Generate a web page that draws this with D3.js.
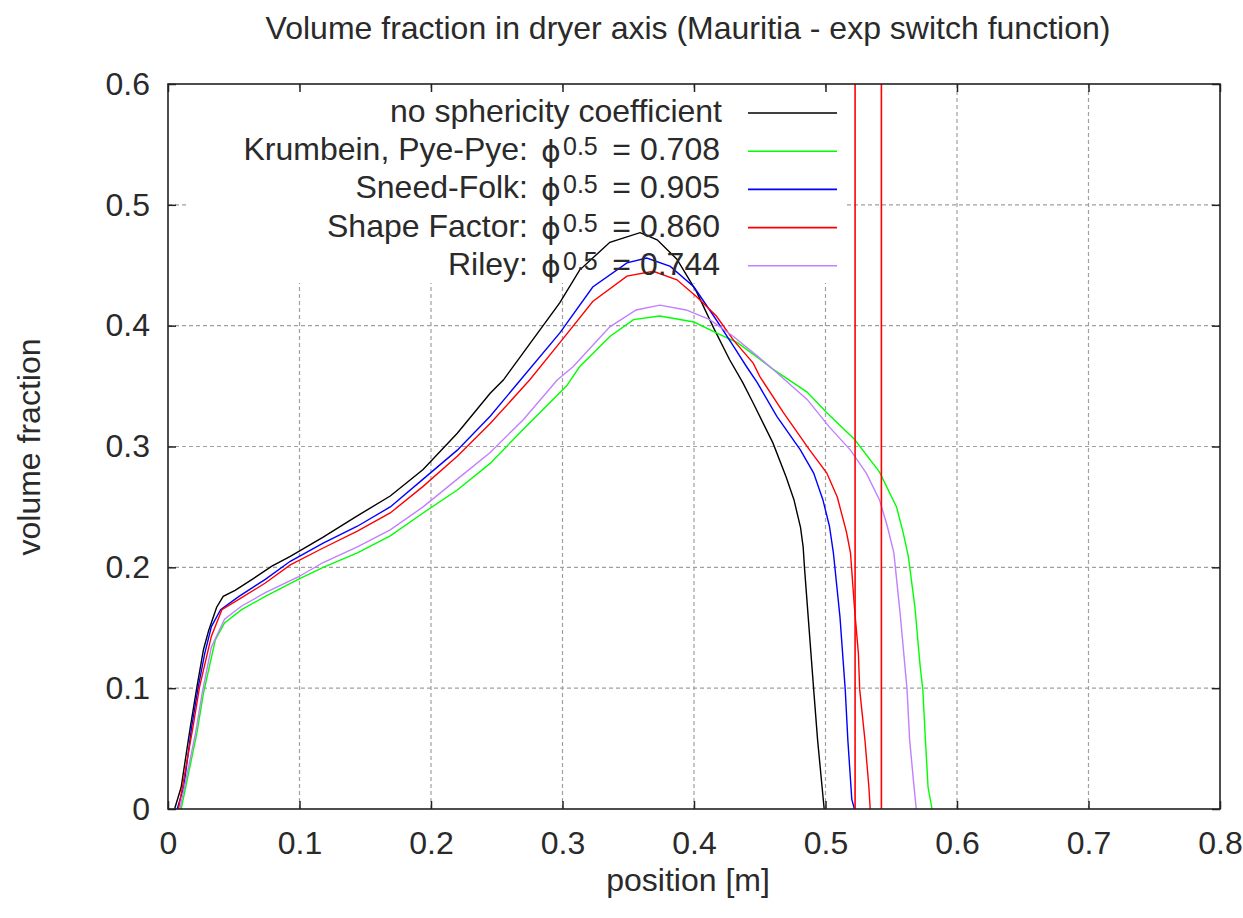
<!DOCTYPE html>
<html>
<head>
<meta charset="utf-8">
<script src="https://cdn.jsdelivr.net/npm/d3@7"></script>
<style>
	body { margin: 0; background: #fff; }
	svg text { font-family: "Liberation Sans", Arial, sans-serif; fill: #2a2a2a; }
</style>
</head>
<body>
<div id="chart"></div>
<script>

// [position m, volume fraction]
var noCoef = [[0.005,0],[0.010,0.018],[0.017,0.068],[0.022,0.101],[0.027,0.132],[0.031,0.148],[0.037,0.167],[0.042,0.176],[0.051,0.181],[0.064,0.190],[0.079,0.201],[0.093,0.209],[0.118,0.225],[0.143,0.242],[0.169,0.259],[0.194,0.281],[0.220,0.311],[0.245,0.344],[0.255,0.355],[0.298,0.419],[0.313,0.446],[0.336,0.469],[0.359,0.477],[0.372,0.471],[0.387,0.455],[0.402,0.428],[0.415,0.398],[0.427,0.372],[0.437,0.353],[0.445,0.336],[0.460,0.303],[0.470,0.275],[0.476,0.256],[0.481,0.233],[0.483,0.217],[0.484,0.200],[0.491,0.099],[0.494,0.057],[0.499,0]];
var krumbein = [[0.010,0],[0.022,0.063],[0.027,0.096],[0.036,0.140],[0.043,0.154],[0.056,0.165],[0.074,0.176],[0.099,0.190],[0.118,0.200],[0.144,0.212],[0.169,0.226],[0.194,0.245],[0.220,0.264],[0.245,0.286],[0.270,0.314],[0.303,0.350],[0.313,0.366],[0.336,0.391],[0.354,0.405],[0.374,0.408],[0.400,0.403],[0.417,0.394],[0.433,0.386],[0.448,0.374],[0.460,0.364],[0.486,0.345],[0.501,0.328],[0.522,0.306],[0.541,0.279],[0.554,0.250],[0.559,0.229],[0.563,0.209],[0.568,0.167],[0.572,0.118],[0.574,0.099],[0.576,0.057],[0.578,0.018],[0.581,0]];
var sneedFolk = [[0.007,0],[0.012,0.018],[0.018,0.068],[0.023,0.101],[0.028,0.129],[0.033,0.151],[0.040,0.165],[0.054,0.176],[0.074,0.190],[0.093,0.205],[0.118,0.220],[0.144,0.234],[0.169,0.250],[0.194,0.273],[0.220,0.297],[0.245,0.325],[0.268,0.355],[0.298,0.394],[0.323,0.432],[0.349,0.452],[0.364,0.456],[0.382,0.449],[0.400,0.432],[0.415,0.408],[0.430,0.383],[0.440,0.366],[0.448,0.353],[0.463,0.325],[0.481,0.297],[0.491,0.278],[0.498,0.256],[0.503,0.234],[0.506,0.212],[0.511,0.159],[0.515,0.099],[0.517,0.057],[0.520,0.008],[0.522,0]];
var shapeFactor = [[0.008,0],[0.019,0.068],[0.024,0.101],[0.033,0.143],[0.041,0.165],[0.056,0.175],[0.074,0.187],[0.093,0.202],[0.118,0.216],[0.144,0.230],[0.169,0.245],[0.194,0.267],[0.220,0.292],[0.245,0.319],[0.275,0.355],[0.298,0.386],[0.323,0.420],[0.349,0.441],[0.369,0.445],[0.387,0.438],[0.402,0.424],[0.417,0.408],[0.430,0.388],[0.445,0.369],[0.450,0.358],[0.468,0.328],[0.488,0.297],[0.501,0.278],[0.509,0.258],[0.516,0.229],[0.519,0.212],[0.522,0.167],[0.525,0.129],[0.526,0.099],[0.530,0.057],[0.533,0.018],[0.534,0]];
var riley = [[0.009,0],[0.021,0.063],[0.026,0.096],[0.033,0.134],[0.043,0.157],[0.056,0.168],[0.074,0.179],[0.099,0.192],[0.118,0.204],[0.144,0.217],[0.169,0.231],[0.194,0.250],[0.220,0.273],[0.245,0.295],[0.270,0.322],[0.296,0.355],[0.308,0.366],[0.336,0.399],[0.356,0.413],[0.374,0.417],[0.394,0.413],[0.412,0.405],[0.430,0.391],[0.448,0.375],[0.460,0.364],[0.486,0.339],[0.503,0.316],[0.519,0.297],[0.531,0.278],[0.541,0.256],[0.547,0.234],[0.552,0.212],[0.557,0.159],[0.562,0.099],[0.564,0.057],[0.567,0.022],[0.569,0]];

var markX = [0.5225, 0.5425];		// red vertical lines

var xTicks = [0, 0.1, 0.2, 0.3, 0.4, 0.5, 0.6, 0.7, 0.8];
var yTicks = [0, 0.1, 0.2, 0.3, 0.4, 0.5, 0.6];

var series = [
	{ name: "no sphericity coefficient", data: noCoef, color: "#000000" },
	{ name: "Krumbein, Pye-Pye:", val: "0.708", data: krumbein, color: "#00ff00" },
	{ name: "Sneed-Folk:", val: "0.905", data: sneedFolk, color: "#0000ff" },
	{ name: "Shape Factor:", val: "0.860", data: shapeFactor, color: "#ff0000" },
	{ name: "Riley:", val: "0.744", data: riley, color: "#c080ff" },
];

var width = 1243, height = 918;
var [ mT, mR, mB, mL ] = [ 84, 23, 109, 168 ];
var fs = 32;

var svg = d3.select("#chart").append("svg")
	.attr("width", width)
	.attr("height", height);

var x = d3.scaleLinear([0, 0.8], [mL, width - mR]);
var y = d3.scaleLinear([0, 0.6], [height - mB, mT]);

// grid
var grid = svg.append("g")
	.attr("stroke", "#a0a0a0")
	.attr("stroke-width", 1.2)
	.attr("stroke-dasharray", "4,3");
grid.selectAll(".gx").data(xTicks.slice(1, -1)).join("line")
	.attr("x1", d => x(d)).attr("x2", d => x(d))
	.attr("y1", y(0)).attr("y2", y(0.6));
grid.selectAll(".gy").data(yTicks.slice(1, -1)).join("line")
	.attr("x1", x(0)).attr("x2", x(0.8))
	.attr("y1", d => y(d)).attr("y2", d => y(d));

// opaque key box
svg.append("rect")
	.attr("x", 188).attr("y", 88)
	.attr("width", 658).attr("height", 195)
	.attr("fill", "#fff");

// curves
var line = d3.line().x(d => x(d[0])).y(d => y(d[1]));
svg.append("g")
	.selectAll("path")
	.data(series)
	.join("path")
	.attr("d", d => line(d.data))
	.attr("fill", "none")
	.attr("stroke", d => d.color)
	.attr("stroke-width", 1.4);

svg.append("g")
	.selectAll("line")
	.data(markX)
	.join("line")
	.attr("x1", d => x(d)).attr("x2", d => x(d))
	.attr("y1", y(0)).attr("y2", y(0.6))
	.attr("stroke", "#ff0000")
	.attr("stroke-width", 1.6);

// axes (ticks inward, mirrored)
function styleAxis(g)	{
	g.select(".domain").remove();
	g.selectAll(".tick line").attr("stroke", "#222").attr("stroke-width", 1.5);
	g.selectAll(".tick text").style("font-size", fs + "px").attr("fill", "#2a2a2a");
}

svg.append("g")
	.attr("transform", `translate(0, ${height - mB})`)
	.call(d3.axisBottom(x).tickValues(xTicks).tickSize(-8).tickPadding(22).tickFormat(d3.format("~g")))
	.call(styleAxis);
svg.append("g")
	.attr("transform", `translate(0, ${mT})`)
	.call(d3.axisTop(x).tickValues(xTicks).tickSize(-8).tickFormat(""))
	.call(styleAxis);
svg.append("g")
	.attr("transform", `translate(${mL}, 0)`)
	.call(d3.axisLeft(y).tickValues(yTicks).tickSize(-8).tickPadding(18).tickFormat(d3.format("~g")))
	.call(styleAxis);
svg.append("g")
	.attr("transform", `translate(${width - mR}, 0)`)
	.call(d3.axisRight(y).tickValues(yTicks).tickSize(-8).tickFormat(""))
	.call(styleAxis);

svg.append("rect")
	.attr("x", mL).attr("y", mT)
	.attr("width", width - mR - mL).attr("height", height - mB - mT)
	.attr("fill", "none")
	.attr("stroke", "#222")
	.attr("stroke-width", 1.6);

// key
var key = svg.append("g").style("font-size", fs + "px");
var rowY = d => 113 + d * 38.2;

key.selectAll(".ks").data(series).join("line")
	.attr("x1", 748).attr("x2", 837)
	.attr("y1", (d,i) => rowY(i)).attr("y2", (d,i) => rowY(i))
	.attr("stroke", d => d.color)
	.attr("stroke-width", 1.6);

series.forEach((s, i) => {
	var by = rowY(i) + 9;
	if(!s.val)	{
		key.append("text").attr("x", 722).attr("y", by).attr("text-anchor", "end").text(s.name);
		return;
	}
	key.append("text").attr("x", 528).attr("y", by).attr("text-anchor", "end").text(s.name);
	key.append("text").attr("x", 541).attr("y", by + 2).style("font-family", "DejaVu Sans").style("font-size", "30px").text("\u03d5");
	key.append("text").attr("x", 563).attr("y", by - 5).style("font-size", "25px").text("0.5");
	key.append("text").attr("x", 720).attr("y", by).attr("text-anchor", "end").text("= " + s.val);
});

// titles
svg.append("text")
	.attr("x", 688).attr("y", 39)
	.attr("text-anchor", "middle")
	.style("font-size", fs + "px")
	.text("Volume fraction in dryer axis (Mauritia - exp switch function)");

svg.append("text")
	.attr("x", 688).attr("y", 891)
	.attr("text-anchor", "middle")
	.style("font-size", fs + "px")
	.text("position [m]");

svg.append("text")
	.attr("transform", "translate(40, 447) rotate(-90)")
	.attr("text-anchor", "middle")
	.style("font-size", fs + "px")
	.text("volume fraction");

</script>
</body>
</html>
